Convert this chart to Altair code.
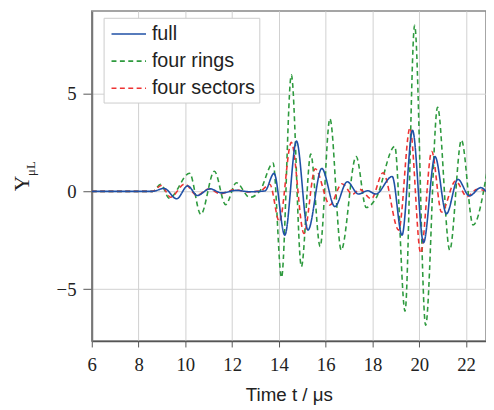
import altair as alt
import pandas as pd

# ---- data ----
full_t = [6.0, 8.6, 9.09, 9.63, 10.1, 10.51, 11.05, 11.55, 12.18, 12.74, 13.4,
          13.79, 14.25, 14.75, 15.24, 15.83, 16.39, 16.92, 17.4, 17.79, 18.14,
          18.84, 19.26, 19.71, 20.18, 20.67, 21.16, 21.65, 22.14, 22.63, 22.9]
full_v = [0.0, 0.0, 0.15, -0.38, 0.28, -0.21, 0.13, -0.08, 0.05, -0.02, 0.02,
          0.92, -2.24, 2.57, -1.98, 1.17, -0.78, 0.49, -0.14, 0.03, -0.14,
          0.76, -2.24, 3.12, -2.62, 1.78, -1.15, 0.61, -0.23, 0.19, -0.08]

rings_t = [6.0, 8.6, 8.95, 9.31, 10.18, 10.66, 11.24, 11.72, 12.18, 12.75, 13.2,
           13.75, 14.11, 14.53, 14.96, 15.36, 15.76, 16.18, 16.66, 17.3, 17.73,
           18.15, 18.95, 19.39, 19.8, 20.27, 20.78, 21.3, 21.8, 22.3, 22.9]
rings_v = [0.0, 0.0, 0.36, -0.35, 0.92, -1.18, 1.03, -0.68, 0.44, -0.31, 0.05,
           1.45, -4.4, 5.95, -3.85, 1.9, -2.82, 3.71, -3.0, 1.78, -0.83,
           -0.35, 2.3, -6.12, 8.48, -6.84, 4.3, -3.0, 2.62, -1.72, 1.05]

sectors_t = [6.0, 8.6, 8.97, 9.37, 9.97, 10.49, 11.0, 11.5, 12.1, 12.7, 13.2,
             13.61, 14.02, 14.53, 15.07, 15.55, 16.18, 16.69, 17.15, 17.45, 17.95,
             18.45, 19.12, 19.6, 20.06, 20.53, 20.95, 21.55, 22.04, 22.47, 22.9]
sectors_v = [0.0, 0.0, 0.3, -0.3, 0.37, -0.2, 0.12, -0.12, 0.08, -0.03, 0.02,
             0.36, -1.55, 2.5, -2.15, 1.15, -0.7, 0.39, -0.15, 0.1, -0.38,
             0.95, -1.98, 3.24, -3.16, 2.04, -1.06, 0.53, -0.27, 0.11, 0.0]

series_names = ["full", "four rings", "four sectors"]
series_colors = ["#1f50a6", "#2e9a3e", "#ee3333"]
series_dash = [[1, 0], [5, 3.5], [5, 3.5]]

x_ticks = [6, 8, 10, 12, 14, 16, 18, 20, 22]
y_ticks = [-5, 0, 5]

frames = []
for name, ts, vs in [("full", full_t, full_v),
                     ("four rings", rings_t, rings_v),
                     ("four sectors", sectors_t, sectors_v)]:
    frames.append(pd.DataFrame({"t": ts, "v": vs, "series": name}))
df = pd.concat(frames, ignore_index=True)

xscale = alt.Scale(domain=[6, 22.85], nice=False, zero=False)
yscale = alt.Scale(domain=[-7.65, 9.22], nice=False, zero=False)

legend_kw = dict(
    orient="none", legendX=12, legendY=7, title=None,
    symbolType="M-0.725,0H2.275", symbolSize=545, symbolStrokeWidth=1.6,
    symbolFillColor="transparent",
    labelFont="Liberation Sans", labelFontSize=20, labelColor="#222222",
    labelOffset=20, strokeColor="#cccccc", fillColor="white",
    padding=4, rowPadding=4.5, cornerRadius=0,
)
color = alt.Color(
    "series:N",
    scale=alt.Scale(domain=series_names, range=series_colors),
    legend=alt.Legend(**legend_kw),
)
dash = alt.StrokeDash(
    "series:N",
    scale=alt.Scale(domain=series_names, range=series_dash),
    legend=alt.Legend(**legend_kw),
)

xaxis = alt.Axis(
    values=x_ticks, grid=True, gridColor="#d0d0d0", gridWidth=1,
    domainColor="#555555", domainWidth=1.5, tickColor="#555555", tickSize=6,
    labelFont="Liberation Serif", labelFontSize=19, labelColor="#222222",
    labelPadding=8.5, labelFlush=False,
    title="Time t / μs", titleFont="Liberation Sans", titleFontSize=19,
    titleFontWeight="normal", titleColor="#222222", titlePadding=12,
)
yaxis = alt.Axis(
    values=y_ticks, grid=True, gridColor="#d0d0d0", gridWidth=1,
    domainColor="#777777", domainWidth=2, tickColor="#555555", tickSize=9,
    labelFont="Liberation Serif", labelFontSize=19, labelColor="#222222",
    labelPadding=7, labelFlush=False, title=None,
)

base = alt.Chart(df).mark_line(strokeWidth=1.6, clip=True, interpolate="monotone").encode(
    x=alt.X("t:Q", scale=xscale, axis=xaxis),
    y=alt.Y("v:Q", scale=yscale, axis=yaxis),
    color=color,
    strokeDash=dash,
)

rings = base.transform_filter(alt.datum.series == "four rings")
sectors = base.transform_filter(alt.datum.series == "four sectors")
full = base.transform_filter(alt.datum.series == "full")

ylab_main = alt.Chart(pd.DataFrame({"s": ["Υ"]})).mark_text(
    font="Liberation Serif", fontSize=22, angle=270, color="#222222"
).encode(text="s:N", x=alt.value(-71), y=alt.value(175))
ylab_sub = alt.Chart(pd.DataFrame({"s": ["μL"]})).mark_text(
    font="Liberation Serif", fontSize=13, angle=270, color="#222222"
).encode(text="s:N", x=alt.value(-62), y=alt.value(160))

chart = alt.layer(rings, sectors, full, ylab_main, ylab_sub).properties(
    width=400, height=335,
    autosize=alt.AutoSizeParams(type="none"),
    padding={"left": 85, "top": 0, "right": 0, "bottom": 66},
).configure_view(stroke="#888888", strokeWidth=1.5)

chart.save("out.html", embed_options={"renderer": "svg", "actions": False})
